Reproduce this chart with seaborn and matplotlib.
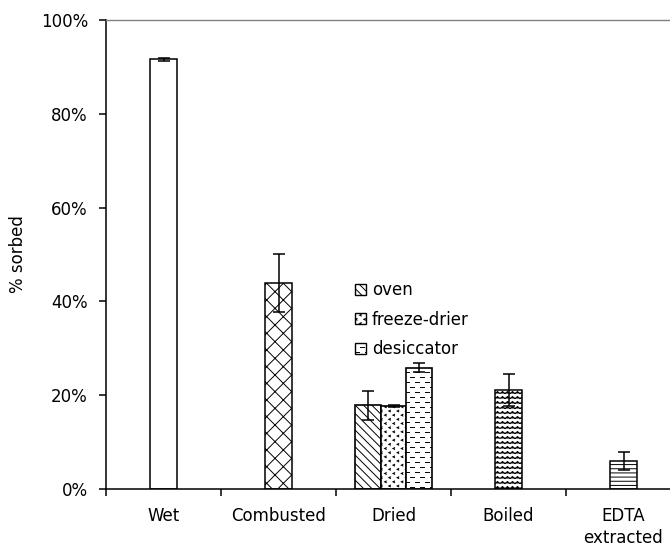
import warnings
import numpy as np
import pandas as pd
import matplotlib
matplotlib.use("Agg")
import matplotlib.pyplot as plt
import matplotlib.hatch as mhatch
from matplotlib.path import Path
from matplotlib.patches import Patch
from matplotlib.ticker import FixedLocator, PercentFormatter
import seaborn as sns

warnings.filterwarnings("ignore")

# ---- data -------------------------------------------------------------
categories = ["Wet", "Combusted", "Dried", "Boiled", "EDTA\nextracted"]
single_cats = ["Wet", "Combusted", "Boiled", "EDTA\nextracted"]
single_vals = [91.6, 44.0, 21.2, 6.0]
single_errs = [0.3, 6.2, 3.4, 1.9]

dried_methods = ["oven", "freeze-drier", "desiccator"]
dried_vals = [17.9, 17.7, 25.9]
dried_errs = [3.1, 0.3, 0.9]


# ---- extra hatch patterns (zigzag, short dashes, chevrons) ---------------
class TileHatch(mhatch.HatchPatternBase):
    char = None
    tiles_per_char = 1.0
    polylines = []

    def __init__(self, hatch, density):
        n = int(round(hatch.count(self.char) * density * self.tiles_per_char))
        verts, codes = [], []
        for i in range(n):
            for j in range(n):
                for line in self.polylines:
                    for k, (px, py) in enumerate(line):
                        verts.append(((i + px) / n, (j + py) / n))
                        codes.append(Path.MOVETO if k == 0 else Path.LINETO)
        self.verts = np.array(verts).reshape(-1, 2)
        self.codes = np.array(codes, dtype=Path.code_type)
        self.num_vertices = len(verts)

    def set_vertices_and_codes(self, vertices, codes):
        vertices[:] = self.verts
        codes[:] = self.codes


class ZigzagHatch(TileHatch):
    char = "~"
    tiles_per_char = 20 / 6
    polylines = [[(0.0, 0.3), (0.5, 0.7), (1.0, 0.3)]]


class DashHatch(TileHatch):
    char = "_"
    tiles_per_char = 10 / 6
    polylines = [[(0.05, 0.25), (0.45, 0.25)], [(0.55, 0.75), (0.95, 0.75)]]


class ChevronHatch(TileHatch):
    char = "<"
    tiles_per_char = 12 / 6
    polylines = [[(0.35, 0.08), (0.15, 0.18), (0.35, 0.28)],
                 [(0.85, 0.58), (0.65, 0.68), (0.85, 0.78)]]


mhatch._hatch_types.extend([ZigzagHatch, DashHatch, ChevronHatch])
mhatch._validate_hatch_pattern = lambda hatch: None

single_hatches = {"Wet": "", "Combusted": "xx", "Boiled": "~",
                  "EDTA\nextracted": "----"}
dried_hatches = {"oven": "\\\\\\\\", "freeze-drier": "<", "desiccator": "_"}

# ---- style ---------------------------------------------------------------
sns.set_style("ticks")
plt.rcParams["font.family"] = ["DejaVu Sans"]
plt.rcParams["font.size"] = 12
plt.rcParams["text.color"] = "black"
plt.rcParams["axes.labelcolor"] = "black"
plt.rcParams["xtick.color"] = "black"
plt.rcParams["ytick.color"] = "black"
plt.rcParams["hatch.linewidth"] = 0.7
plt.rcParams["hatch.color"] = "black"

fig = plt.figure(figsize=(6.70, 5.49), dpi=100)
ax = fig.add_axes([106 / 670, 1 - 489 / 549, 564 / 670, 469 / 549])

single_df = pd.DataFrame({"category": single_cats, "sorbed": single_vals})
dried_df = pd.DataFrame({"category": ["Dried"] * 3, "method": dried_methods,
                         "sorbed": dried_vals})

sns.barplot(data=single_df, x="category", y="sorbed", order=categories,
            color="white", saturation=1, edgecolor="black", linewidth=1.1,
            width=0.235, errorbar=None, ax=ax)
sns.barplot(data=dried_df, x="category", y="sorbed", hue="method",
            order=categories, hue_order=dried_methods,
            palette={m: "white" for m in dried_methods}, saturation=1,
            edgecolor="black", linewidth=1.2, width=0.665, errorbar=None,
            legend=False, ax=ax)

# bars left to right, paired with their values, errors and hatches
bars = sorted(ax.patches, key=lambda p: p.get_x())
order_vals = single_vals[:2] + dried_vals + single_vals[2:]
order_errs = single_errs[:2] + dried_errs + single_errs[2:]
order_hatch = ([single_hatches[c] for c in single_cats[:2]]
               + [dried_hatches[m] for m in dried_methods]
               + [single_hatches[c] for c in single_cats[2:]])
for bar, h in zip(bars, order_hatch):
    bar.set_hatch(h)

xs = [b.get_x() + b.get_width() / 2 for b in bars]
ax.errorbar(xs, order_vals, yerr=order_errs, fmt="none", ecolor="black",
            elinewidth=1.1, capsize=4, capthick=1.1, zorder=5)

# ---- axes ----------------------------------------------------------------
ax.set_xlim(-0.5, 4.5 - 11 / 115)
ax.set_ylim(0, 100)
ax.yaxis.set_major_locator(FixedLocator([0, 20, 40, 60, 80, 100]))
ax.yaxis.set_major_formatter(PercentFormatter(decimals=0))
ax.set_xticks(range(len(categories)))
ax.set_xticklabels(categories)
ax.set_xticks(np.arange(-0.5, 4.5, 1.0), minor=True)
ax.tick_params(axis="x", which="major", length=0, pad=13, labelsize=12,
               labelcolor="black")
ax.tick_params(axis="x", which="minor", length=5, width=1.1, direction="out",
               color="black")
ax.tick_params(axis="y", length=5, width=1.1, direction="out", pad=8,
               labelsize=12, color="black", labelcolor="black")
for t in ax.get_xticklabels():
    t.set_linespacing(1.3)

ax.set_xlabel("")
ax.set_ylabel("% sorbed", fontsize=12, labelpad=10, color="black")

for side in ["left", "bottom"]:
    ax.spines[side].set_color("black")
    ax.spines[side].set_linewidth(1.1)
ax.spines["top"].set_visible(True)
ax.spines["top"].set_color("#808080")
ax.spines["top"].set_linewidth(1.0)
ax.spines["right"].set_visible(False)

handles = [Patch(facecolor="white", edgecolor="black", linewidth=1.0,
                 hatch=dried_hatches[m], label=m) for m in dried_methods]
leg = ax.legend(handles=handles, loc="upper left", frameon=False,
                bbox_to_anchor=(355 / 670, 1 - 281 / 549),
                bbox_transform=fig.transFigure, borderpad=0, borderaxespad=0,
                handlelength=0.65, handleheight=0.65, handletextpad=0.35,
                labelspacing=0.7, fontsize=12)
for t in leg.get_texts():
    t.set_color("black")

fig.savefig("out.png", dpi=100)
